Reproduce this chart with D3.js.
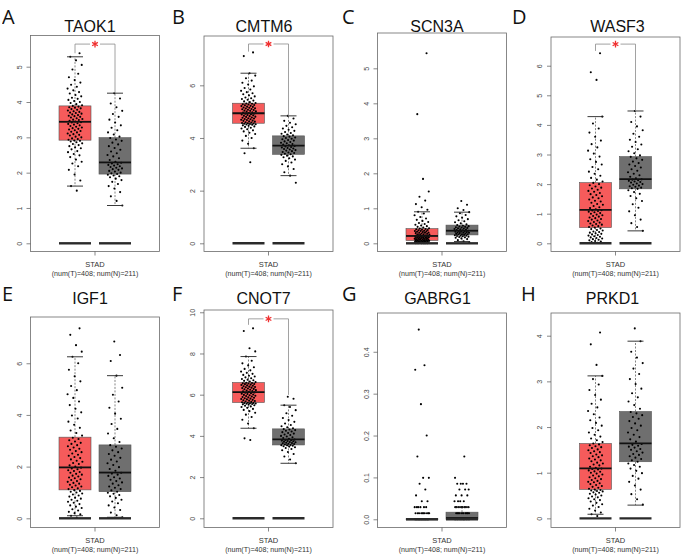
<!DOCTYPE html>
<html><head><meta charset="utf-8">
<script src="https://cdn.jsdelivr.net/npm/d3@7"></script>
<style>body{margin:0;background:#fff}svg{display:block}text{opacity:0.995}</style>
</head><body>
<svg id="c" width="682" height="555"></svg>
<script>
// ---------- DATA ----------
const genes = ["TAOK1","CMTM6","SCN3A","WASF3","IGF1","CNOT7","GABRG1","PRKD1"];
const panelLetters = ["A","B","C","D","E","F","G","H"];
const groupLabel = "STAD";
const countLabel = "(num(T)=408; num(N)=211)";
const yTicks = [[0,1,2,3,4,5],[0,2,4,6],[0,1,2,3,4,5],[0,1,2,3,4,5,6],[0,2,4,6],[0,2,4,6,8,10],[0,0.1,0.2,0.3,0.4],[0,1,2,3,4]];
const yTickDecimals = [0,0,0,0,0,0,1,0];
const yDomains = [[-0.232,5.883],[-0.311,7.873],[-0.234,6.009],[-0.277,6.97],[-0.356,7.79],[-0.447,10.11],[-0.0196,0.4926],[-0.2,4.497]];
// box stats: [lower whisker, Q1, median, Q3, upper whisker]
const tumorBox = [[1.62,2.92,3.44,3.89,5.28],[3.61,4.56,4.94,5.32,6.46],[0,0.08,0.21,0.42,0.9],[0.02,0.53,1.13,2.05,4.28],
                  [0.1,1.10,1.97,3.14,6.25],[4.37,5.62,6.12,6.59,7.85],[0,0,0,0.001,0.001],[0.09,0.635,1.095,1.64,3.12]];
const normalBox = [[1.07,1.96,2.29,2.99,4.25],[2.57,3.38,3.71,4.08,4.84],[0.05,0.24,0.36,0.52,0.89],[0.42,1.84,2.17,2.93,4.47],
                   [0.04,1.03,1.77,2.84,5.52],[2.67,3.56,3.83,4.34,5.49],[0,0,0.003,0.017,0.029],[0.29,1.24,1.64,2.34,3.88]];
// significance bracket: [bracket level, tumor leg end, normal leg end]
const signif = [[5.64,5.38,4.25],[7.57,7.28,4.84],null,[6.73,6.5,4.47],null,[9.68,9.39,5.99],null,null];

const tumorTAOK1 = [1.49,1.62,1.78,1.95,2.08,2.18,2.26,2.31,2.37,2.44,2.49,2.53,2.58,2.61,2.66,2.69,2.72,2.75,2.78,2.81,2.83,2.86,2.88,2.9,2.91,
 2.93,2.95,2.97,3.0,3.02,3.05,3.07,3.09,3.11,3.14,3.16,3.18,3.2,3.22,3.24,3.26,3.28,3.3,3.32,3.34,3.36,3.38,3.4,3.42,3.43,
 3.45,3.47,3.49,3.5,3.52,3.54,3.56,3.58,3.6,3.61,3.63,3.65,3.67,3.69,3.7,3.72,3.74,3.76,3.78,3.8,3.82,3.84,3.85,3.87,3.89,
 3.91,3.94,3.97,4.0,4.03,4.06,4.09,4.12,4.16,4.2,4.24,4.28,4.33,4.38,4.43,4.49,4.55,4.62,4.7,4.8,4.92,5.05,5.18,5.28,5.38];
const normalTAOK1 = [1.07,1.2,1.33,1.45,1.55,1.62,1.68,1.74,1.79,1.83,1.87,1.9,1.92,1.94,1.96,
 1.98,2.0,2.03,2.05,2.08,2.1,2.12,2.14,2.16,2.18,2.2,2.22,2.24,2.26,2.28,
 2.31,2.36,2.41,2.46,2.5,2.55,2.6,2.65,2.7,2.75,2.8,2.85,2.9,2.94,2.98,
 3.02,3.08,3.14,3.2,3.27,3.34,3.42,3.5,3.58,3.66,3.75,3.85,3.96,4.1,4.25];
const tumorCMTM6 = [3.08,3.42,3.61,3.78,3.9,4.0,4.08,4.15,4.2,4.25,4.29,4.33,4.36,4.39,4.42,4.44,4.46,4.48,4.5,4.51,4.52,4.53,4.54,4.55,4.56,
 4.57,4.59,4.6,4.62,4.63,4.65,4.66,4.68,4.69,4.71,4.72,4.74,4.75,4.77,4.78,4.8,4.81,4.83,4.84,4.86,4.87,4.89,4.9,4.92,4.93,
 4.95,4.97,4.98,5.0,5.01,5.03,5.04,5.06,5.07,5.09,5.1,5.12,5.13,5.15,5.16,5.18,5.19,5.21,5.22,5.24,5.25,5.27,5.28,5.3,5.31,
 5.33,5.36,5.39,5.42,5.45,5.48,5.51,5.54,5.58,5.62,5.66,5.7,5.74,5.79,5.84,5.9,5.96,6.03,6.1,6.18,6.27,6.37,6.46,7.11,7.25];
const normalCMTM6 = [2.3,2.57,2.7,2.82,2.92,3.0,3.07,3.13,3.18,3.23,3.27,3.3,3.33,3.36,3.38,
 3.4,3.43,3.45,3.47,3.5,3.52,3.54,3.56,3.58,3.6,3.62,3.64,3.66,3.68,3.7,
 3.72,3.75,3.77,3.8,3.82,3.85,3.87,3.9,3.92,3.95,3.97,4.0,4.02,4.05,4.07,
 4.1,4.13,4.16,4.19,4.23,4.27,4.31,4.36,4.41,4.46,4.52,4.58,4.65,4.74,4.84];
const tumorSCN3A = [0,0,0,0,0,0,0.01,0.01,0.02,0.02,0.03,0.03,0.04,0.04,0.05,0.05,0.05,0.06,0.06,0.06,0.07,0.07,0.07,0.08,0.08,
 0.09,0.09,0.1,0.1,0.11,0.11,0.12,0.12,0.13,0.13,0.14,0.14,0.15,0.15,0.16,0.16,0.17,0.17,0.18,0.18,0.19,0.19,0.2,0.2,0.21,
 0.22,0.23,0.23,0.24,0.25,0.26,0.26,0.27,0.28,0.29,0.3,0.3,0.31,0.32,0.33,0.34,0.35,0.35,0.36,0.37,0.38,0.39,0.4,0.41,0.42,
 0.43,0.45,0.47,0.49,0.51,0.53,0.55,0.58,0.61,0.64,0.67,0.71,0.75,0.8,0.85,0.9,0.96,1.03,1.12,1.22,1.33,1.48,1.84,3.69,5.43];
const normalSCN3A = [0.03,0.06,0.09,0.12,0.14,0.16,0.17,0.18,0.19,0.2,0.21,0.22,0.22,0.23,0.24,
 0.25,0.26,0.26,0.27,0.28,0.29,0.3,0.3,0.31,0.32,0.33,0.33,0.34,0.35,0.36,
 0.37,0.38,0.39,0.4,0.41,0.42,0.43,0.44,0.45,0.46,0.47,0.48,0.49,0.5,0.52,
 0.54,0.57,0.6,0.63,0.66,0.69,0.73,0.77,0.81,0.86,0.89,0.95,1.0,1.1,1.21];
const tumorWASF3 = [0.02,0.04,0.06,0.08,0.1,0.12,0.14,0.16,0.18,0.2,0.22,0.24,0.26,0.28,0.3,0.32,0.34,0.36,0.38,0.4,0.43,0.45,0.48,0.5,0.53,
 0.55,0.58,0.6,0.63,0.65,0.67,0.7,0.72,0.75,0.77,0.8,0.82,0.85,0.87,0.9,0.92,0.95,0.97,1.0,1.02,1.05,1.07,1.09,1.11,1.12,
 1.15,1.19,1.22,1.26,1.3,1.33,1.37,1.41,1.44,1.48,1.52,1.55,1.59,1.63,1.66,1.7,1.74,1.77,1.81,1.85,1.88,1.92,1.96,2.0,2.04,
 2.09,2.15,2.21,2.28,2.35,2.42,2.5,2.58,2.66,2.75,2.84,2.93,3.03,3.13,3.24,3.35,3.47,3.6,3.74,3.88,4.05,4.28,5.52,5.78,6.42];
const normalWASF3 = [0.42,0.55,0.68,0.8,0.95,1.08,1.2,1.32,1.43,1.52,1.6,1.67,1.73,1.79,1.84,
 1.86,1.88,1.91,1.93,1.95,1.98,2.0,2.02,2.05,2.07,2.09,2.11,2.13,2.15,2.16,
 2.2,2.25,2.3,2.35,2.4,2.45,2.5,2.56,2.61,2.66,2.71,2.76,2.82,2.87,2.92,
 2.97,3.04,3.11,3.18,3.26,3.34,3.42,3.5,3.6,3.7,3.82,3.95,4.1,4.28,4.47];
const tumorIGF1 = [0.03,0.1,0.15,0.2,0.25,0.3,0.35,0.4,0.45,0.5,0.55,0.6,0.64,0.68,0.72,0.76,0.8,0.84,0.88,0.92,0.96,1.0,1.03,1.06,1.09,
 1.13,1.16,1.2,1.23,1.27,1.3,1.34,1.37,1.41,1.44,1.48,1.51,1.55,1.58,1.62,1.65,1.69,1.72,1.76,1.79,1.83,1.86,1.9,1.93,1.96,
 2.0,2.05,2.1,2.14,2.19,2.23,2.28,2.33,2.37,2.42,2.46,2.51,2.56,2.6,2.65,2.69,2.74,2.79,2.83,2.88,2.92,2.97,3.02,3.07,3.12,
 3.2,3.3,3.4,3.5,3.62,3.74,3.86,3.98,4.1,4.24,4.38,4.52,4.66,4.8,4.96,5.12,5.3,5.5,5.75,6.0,6.25,6.45,6.7,7.1,7.35];
const normalIGF1 = [0.04,0.12,0.22,0.32,0.42,0.5,0.58,0.65,0.72,0.79,0.85,0.9,0.95,0.99,1.03,
 1.08,1.13,1.18,1.23,1.28,1.34,1.39,1.44,1.49,1.54,1.59,1.64,1.69,1.73,1.76,
 1.84,1.91,1.98,2.06,2.13,2.2,2.27,2.34,2.42,2.49,2.56,2.63,2.7,2.77,2.83,
 2.95,3.1,3.28,3.46,3.65,3.85,4.05,4.28,4.52,4.78,5.05,5.52,6.09,6.32,6.84];
const tumorCNOT7 = [3.8,3.88,4.37,4.6,4.78,4.92,5.03,5.12,5.2,5.26,5.31,5.36,5.4,5.43,5.46,5.49,5.51,5.53,5.55,5.56,5.57,5.58,5.59,5.6,5.61,
 5.63,5.65,5.67,5.69,5.71,5.73,5.75,5.77,5.79,5.81,5.83,5.85,5.87,5.89,5.91,5.93,5.95,5.97,5.99,6.01,6.03,6.05,6.07,6.09,6.11,
 6.14,6.16,6.18,6.2,6.22,6.24,6.26,6.28,6.3,6.32,6.34,6.36,6.37,6.39,6.41,6.43,6.45,6.47,6.49,6.51,6.52,6.54,6.55,6.57,6.58,
 6.61,6.64,6.67,6.7,6.73,6.76,6.8,6.84,6.88,6.92,6.96,7.01,7.06,7.12,7.18,7.25,7.33,7.42,7.52,7.65,7.85,8.1,8.25,9.09,9.22];
const normalCNOT7 = [2.67,2.85,3.0,3.12,3.22,3.3,3.36,3.41,3.45,3.48,3.5,3.52,3.54,3.55,3.56,
 3.58,3.6,3.62,3.64,3.65,3.67,3.69,3.7,3.72,3.74,3.75,3.77,3.79,3.8,3.82,
 3.86,3.9,3.93,3.97,4.0,4.04,4.07,4.11,4.14,4.18,4.21,4.25,4.28,4.31,4.33,
 4.37,4.42,4.47,4.53,4.6,4.68,4.77,4.87,4.98,5.1,5.25,5.4,5.49,5.8,5.9];
const tumorGABRG1 = [0,0,0,0,0,0,0,0,0,0,0,0,0,0,0,0,0,0,0,0,
 0.0145,0.0145,0.0145,0.0145,0.0145,0.0145,0.0145,0.0145,0.0145,0.0145,
 0.029,0.029,0.029,0.029,0.029,0.029,0.043,0.043,0.057,0.071,0.085,0.099,0.099,0.15,0.2,0.275,0.357,0.368,0.453];
const normalGABRG1 = [0,0,0,0,0,0,0,0,0,0,0,0,0,0,0,
 0.0145,0.0145,0.0145,0.0145,0.0145,0.0145,0.0145,0.0145,0.0145,0.0145,
 0.029,0.029,0.029,0.029,0.029,0.029,0.029,0.029,0.043,0.043,0.043,0.043,
 0.057,0.057,0.057,0.071,0.071,0.071,0.085,0.085,0.085,0.085,0.099,0.15];
const tumorPRKD1 = [0.05,0.09,0.13,0.17,0.21,0.25,0.28,0.31,0.34,0.37,0.4,0.42,0.44,0.46,0.48,0.5,0.52,0.54,0.56,0.57,0.59,0.6,0.61,0.62,0.63,
 0.65,0.67,0.69,0.71,0.73,0.75,0.77,0.79,0.8,0.82,0.84,0.86,0.88,0.9,0.92,0.94,0.96,0.98,1.0,1.02,1.03,1.05,1.07,1.08,1.09,
 1.11,1.13,1.16,1.18,1.2,1.22,1.25,1.27,1.29,1.31,1.34,1.36,1.38,1.4,1.43,1.45,1.47,1.49,1.51,1.54,1.56,1.58,1.6,1.62,1.64,
 1.67,1.71,1.75,1.79,1.83,1.88,1.93,1.98,2.03,2.09,2.15,2.21,2.28,2.35,2.43,2.51,2.6,2.7,2.81,2.93,3.05,3.12,3.36,3.81,4.07];
const normalPRKD1 = [0.3,0.42,0.53,0.63,0.72,0.8,0.87,0.93,0.99,1.04,1.09,1.13,1.17,1.2,1.24,
 1.27,1.3,1.33,1.36,1.39,1.41,1.44,1.47,1.5,1.52,1.55,1.57,1.59,1.61,1.63,
 1.68,1.73,1.78,1.83,1.88,1.93,1.98,2.03,2.08,2.13,2.18,2.22,2.26,2.3,2.33,
 2.4,2.48,2.56,2.65,2.74,2.84,2.94,3.05,3.16,3.28,3.4,3.52,3.65,3.88,4.16];

const tumorPoints = [tumorTAOK1,tumorCMTM6,tumorSCN3A,tumorWASF3,tumorIGF1,tumorCNOT7,tumorGABRG1,tumorPRKD1];
const normalPoints = [normalTAOK1,normalCMTM6,normalSCN3A,normalWASF3,normalIGF1,normalCNOT7,normalGABRG1,normalPRKD1];

// ---------- LAYOUT ----------
const colCenters = [95, 268.5, 442, 615.5];
const frameHalf = 64.5;
const frameTops = [35.5,36,33,37,317,310,313,313];
const frameBottoms = [251.5, 527.5];
const titleOffsets = [-5,-4.5,-5,2,-5,-5,-4.5,-3];
const letterX = [2,172,342,512,2,172,342,521];
const letterBase = [23.5, 301];
const titleBase = [31.5, 304];
const boxOffset = 20, boxW = 32, jitterHalf = 7.5;
const tumorFill = "#F65B5B", normalFill = "#6F6F6F";
const sans = "Liberation Sans, Arial, sans-serif";

const svg = d3.select("#c");
svg.append("rect").attr("width",682).attr("height",555).attr("fill","#fff");

genes.forEach((gene,i)=>{
  const col = i%4, row = Math.floor(i/4);
  const cx = colCenters[col];
  const x0 = cx-frameHalf, x1 = cx+frameHalf;
  const yb = frameBottoms[row], yt = frameTops[i];
  const y = d3.scaleLinear().domain(yDomains[i]).range([yb,yt]);
  const g = svg.append("g");

  g.append("text").attr("x",letterX[i]).attr("y",letterBase[row]).text(panelLetters[i])
    .attr("font-family","Open Sans, sans-serif").attr("font-size",20).attr("fill","#111");
  g.append("text").attr("x",cx+titleOffsets[i]).attr("y",titleBase[row]).attr("text-anchor","middle").text(gene)
    .attr("font-family",sans).attr("font-size",16).attr("fill","#111");

  g.append("rect").attr("x",x0).attr("y",yt).attr("width",x1-x0).attr("height",yb-yt)
    .attr("fill","none").attr("stroke","#6a6a6a").attr("stroke-width",0.8);

  const fmt = d3.format("."+yTickDecimals[i]+"f");
  const ax = g.append("g").attr("transform",`translate(${x0},0)`)
    .call(d3.axisLeft(y).tickValues(yTicks[i]).tickSize(4).tickFormat(fmt));
  ax.select(".domain").remove();
  ax.selectAll(".tick line").attr("stroke","#555").attr("stroke-width",0.7);
  ax.selectAll(".tick text").attr("x",0).attr("dy","0.35em")
    .attr("transform","translate(-11,0) rotate(-90)").attr("text-anchor","middle")
    .attr("font-family",sans).attr("font-size",7).attr("fill","#444");

  g.append("line").attr("x1",cx).attr("x2",cx).attr("y1",yb).attr("y2",yb+4).attr("stroke","#555").attr("stroke-width",0.7);
  g.append("text").attr("x",cx).attr("y",yb+15.5).attr("text-anchor","middle").text(groupLabel)
    .attr("font-family",sans).attr("font-size",7.5).attr("fill","#333");
  g.append("text").attr("x",cx).attr("y",yb+24.5).attr("text-anchor","middle").text(countLabel)
    .attr("font-family",sans).attr("font-size",7.1).attr("fill","#333");

  [[tumorBox[i],tumorPoints[i],tumorFill,-1],[normalBox[i],normalPoints[i],normalFill,1]].forEach(([st,pts,fill,s],k)=>{
    const bx = cx + s*boxOffset;
    const [wl,q1,md,q3,wh] = st;
    g.append("line").attr("x1",bx).attr("x2",bx).attr("y1",y(q3)).attr("y2",y(wh))
      .attr("stroke","#333").attr("stroke-width",0.6).attr("stroke-dasharray","2,1.5");
    g.append("line").attr("x1",bx).attr("x2",bx).attr("y1",y(q1)).attr("y2",y(wl))
      .attr("stroke","#333").attr("stroke-width",0.6).attr("stroke-dasharray","2,1.5");
    g.append("rect").attr("x",bx-boxW/2).attr("y",y(q3)).attr("width",boxW).attr("height",Math.max(0.5,y(q1)-y(q3)))
      .attr("fill",fill).attr("stroke","#555").attr("stroke-width",0.6);
    g.append("g").selectAll("circle").data(pts).join("circle")
      .attr("cx",(d,j)=> bx + ((((j+1)*0.6180339887 + k*0.37) % 1) - 0.5)*2*jitterHalf)
      .attr("cy",d=>y(d)).attr("r",1.05).attr("fill","#000");
    [wl,wh].forEach(v=>{
      g.append("line").attr("x1",bx-boxW/4).attr("x2",bx+boxW/4).attr("y1",y(v)).attr("y2",y(v))
        .attr("stroke","#222").attr("stroke-width",0.9);
    });
    g.append("line").attr("x1",bx-boxW/2).attr("x2",bx+boxW/2).attr("y1",y(md)).attr("y2",y(md))
      .attr("stroke","#111").attr("stroke-width",1.8);
    g.append("line").attr("x1",bx-boxW/2).attr("x2",bx+boxW/2).attr("y1",y(0)).attr("y2",y(0))
      .attr("stroke","#2a2a2a").attr("stroke-width",2.4);
  });

  const sg = signif[i];
  if (sg) {
    const lx = cx-boxOffset, rx = cx+boxOffset, by = y(sg[0]);
    g.append("path").attr("d",`M${lx},${y(sg[1])}V${by}H${cx-5}M${cx+5},${by}H${rx}V${y(sg[2])}`)
      .attr("fill","none").attr("stroke","#8a8a8a").attr("stroke-width",0.8);
    const sym = d3.symbol().type(d3.symbolAsterisk || d3.symbolStar).size(30);
    g.append("path").attr("d",sym()).attr("transform",`translate(${cx},${by})`)
      .attr("fill","#F03030").attr("stroke","#F03030").attr("stroke-width",1.3);
  }
});
</script>
</body></html>
